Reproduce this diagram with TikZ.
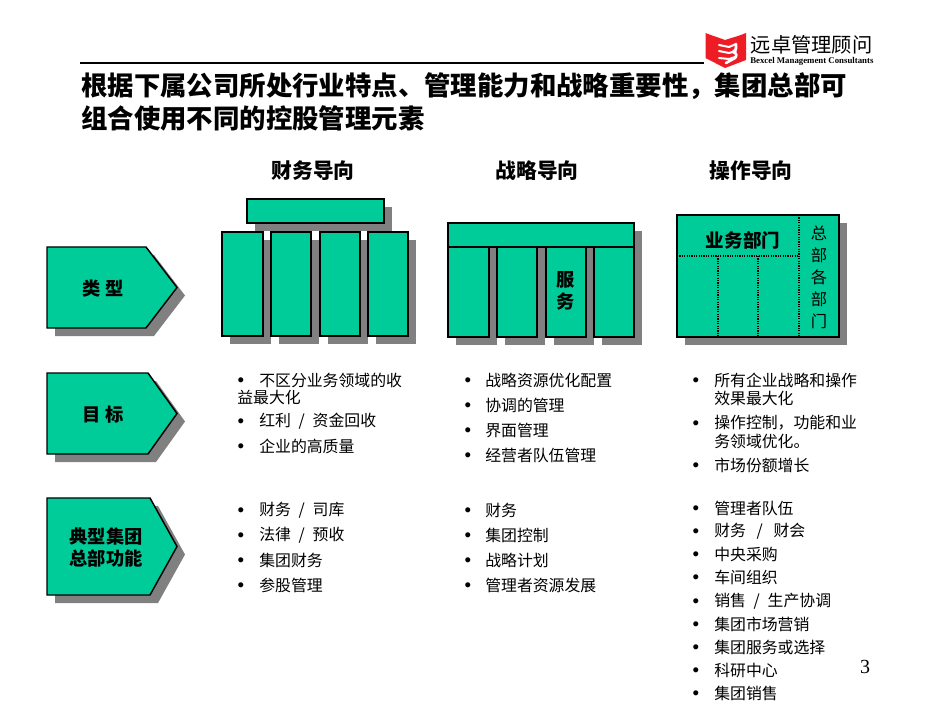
\documentclass[tikz,border=0pt]{standalone}
\usepackage{fontspec}
\setmainfont{Noto Sans CJK SC}
\newfontfamily\latinserif{Liberation Serif}
\newfontfamily\bulfont{Liberation Sans}
\usetikzlibrary{shadows}
\definecolor{grn}{HTML}{00CC99}
\definecolor{shd}{HTML}{808080}
\definecolor{logored}{HTML}{EE1C25}
\tikzset{
  x=.75pt,y=-.75pt,
  shd8/.style={general shadow={fill=shd,shadow xshift=6pt,shadow yshift=-6pt}},
  gbox/.style={draw=black,line width=1.1pt,fill=grn,inner sep=0pt,shd8},
  pent/.style={draw=black,line width=1.1pt,fill=grn,shd8},
  dotbox/.style={draw=black,line width=.8pt,dash pattern=on .9pt off .9pt},
  ttl/.style={anchor=west,inner sep=0pt,font=\fontsize{19.8}{22}\bfseries},
  hdr/.style={inner sep=0pt,font=\fontsize{15.6}{18}\bfseries},
  lbl/.style={inner sep=0pt,font=\fontsize{13.7}{16.5}\bfseries,align=center},
  itm/.style={anchor=west,inner sep=0pt,font=\fontsize{11.9}{14}\selectfont},
  bul/.style={anchor=base,inner sep=0pt,font=\bulfont\fontsize{14}{14}\selectfont},
}
\newcommand{\sep}{\hspace{5.8pt}/\hspace{5.8pt}}
\newcommand{\fwc}{^^^^ff0c}
% name, x0, y0, x1, y1, text
\newcommand{\rectnode}[6]{%
  \node[gbox,minimum width={(#4-#2)*.75pt},minimum height={(#5-#3)*.75pt}] (#1) at ({(#2+#4)/2},{(#3+#5)/2}) {#6};}
% name, y0, y1, shoulder x, label x, text
\newcommand{\pentnode}[6]{%
  \path[pent] (47,#2) -- (#4,#2) -- (177,{(#2+#3)/2}) -- (#4,#3) -- (47,#3) -- cycle;
  \node[lbl] (#1) at (#5,{(#2+#3)/2+1}) {#6};}
% name, bullet x, text x, y, text
\newcommand{\itemnode}[5]{%
  \node[bul] (#1b) at (#2,{#4+6}) {•};
  \node[itm] (#1) at (#3,#4) {#5};}
\begin{document}
\begin{tikzpicture}
\useasboundingbox (0,0) rectangle (950,713);
\fill[white] (0,0) rectangle (950,713);
% header rule and logo
\coordinate (ruleL) at (80,63);
\coordinate (ruleR) at (704,63);
\draw[line width=2.2pt] (ruleL) -- (ruleR);
\fill[logored] (705.5,33) .. controls (713,36) and (720,38) .. (725,40) .. controls (731,38) and (739,36) .. (746,33) -- (746,60) -- (725,68) -- (705.5,58) -- cycle;
\draw[white,line width=1.5pt,line join=round,line cap=round] (719,45) -- (729,47) -- (736,44) (719,51) -- (729,53) -- (736,51) (719,58) -- (729,59) -- (735,57);
\draw[white,line width=2pt,line cap=round] (736,44) .. controls (737,47) and (736,50) .. (733,52) .. controls (737,53) and (737,56) .. (735,58) -- (726,63);
\node[inner sep=0pt,anchor=west,font=\fontsize{15.2}{16}\selectfont] (logotext) at (750.5,45) {远卓管理顾问};
\node[inner sep=0pt,anchor=west,font=\latinserif\fontsize{6.6}{7}\bfseries] (logosub) at (750,61) {Bexcel Management Consultants};
% title
\node[ttl] (t1) at (81,86) {根据下属公司所处行业特点、管理能力和战略重要性\fwc 集团总部可};
\node[ttl] (t2) at (81,118) {组合使用不同的控股管理元素};
% column heads
\node[hdr] (h1) at (313,171) {财务导向};
\node[hdr] (h2) at (537,171) {战略导向};
\node[hdr] (h3) at (751,171) {操作导向};
% arrows
\pentnode{p1}{247}{328}{146}{103}{类\hspace{3.5pt}型}
\pentnode{p2}{373}{454}{148}{103}{目\hspace{3.5pt}标}
\pentnode{p3}{498}{595}{150}{106}{典型集团\\总部功能}
% financial
\rectnode{a0}{247}{199}{384}{223}{}
\rectnode{a1}{222}{232}{263}{336}{}
\rectnode{a2}{271}{232}{311}{336}{}
\rectnode{a3}{320}{232}{360}{336}{}
\rectnode{a4}{368}{232}{408}{336}{}
% strategic
\rectnode{b0}{448}{223}{634}{247}{}
\rectnode{b1}{448}{247}{489}{337}{}
\rectnode{b2}{497}{247}{537}{337}{}
\rectnode{b3}{546}{247}{586}{337}{}
\rectnode{b4}{594}{247}{634}{337}{}
\node[inner sep=0pt,font=\fontsize{13.7}{16.5}\bfseries,align=center] (b3t) at (566,291) {服\\务};
\draw[black,line width=1.1pt] (b0.south west) -- (b0.south east);
% operational
\rectnode{c0}{677}{215}{839}{337}{}
\node[inner sep=0pt,font=\fontsize{13.9}{16}\bfseries] (c1) at (743,240) {业务部门};
\node[inner sep=0pt,font=\fontsize{12.2}{16.5}\selectfont,align=center] (c2) at (819,277) {总\\部\\各\\部\\门};
\coordinate (cv) at (799,215);
\coordinate (cvb) at (799,337);
\coordinate (ch) at (677,256);
\coordinate (chr) at (799,256);
\draw[dotbox] (cv) -- (cvb);
\draw[dotbox] (ch) -- (chr);
\draw[dotbox] (718,256) -- (718,337);
\draw[dotbox] (758,256) -- (758,337);
% goals
\itemnode{g1}{241}{259}{380}{不区分业务领域的收}
\node[itm] (g1x) at (237,397) {益最大化};
\itemnode{g2}{241}{259}{421}{红利\sep 资金回收}
\itemnode{g3}{241}{259}{446}{企业的高质量}
\itemnode{g4}{468}{485}{380}{战略资源优化配置}
\itemnode{g5}{468}{485}{405}{协调的管理}
\itemnode{g6}{468}{485}{430}{界面管理}
\itemnode{g7}{468}{485}{455}{经营者队伍管理}
\itemnode{g8}{696}{714}{380}{所有企业战略和操作}
\node[itm] (g8x) at (714,398) {效果最大化};
\itemnode{g9}{696}{714}{423}{操作控制\fwc 功能和业}
\node[itm] (g9x) at (714,441) {务领域优化。};
\itemnode{g10}{696}{714}{465}{市场份额增长}
% functions
\itemnode{f1}{241}{259}{510}{财务\sep 司库}
\itemnode{f2}{241}{259}{535}{法律\sep 预收}
\itemnode{f3}{241}{259}{560}{集团财务}
\itemnode{f4}{241}{259}{585}{参股管理}
\itemnode{f5}{468}{485}{510}{财务}
\itemnode{f6}{468}{485}{535}{集团控制}
\itemnode{f7}{468}{485}{560}{战略计划}
\itemnode{f8}{468}{485}{585}{管理者资源发展}
\itemnode{f9}{696}{714}{508}{管理者队伍}
\itemnode{f10}{696}{714}{531}{财务\hspace{8pt}/\hspace{8pt}财会}
\itemnode{f11}{696}{714}{554}{中央采购}
\itemnode{f12}{696}{714}{577}{车间组织}
\itemnode{f13}{696}{714}{601}{销售\sep 生产协调}
\itemnode{f14}{696}{714}{624}{集团市场营销}
\itemnode{f15}{696}{714}{647}{集团服务或选择}
\itemnode{f16}{696}{714}{670}{科研中心}
\itemnode{f17}{696}{714}{693}{集团销售}
% page number
\node[inner sep=0pt,font=\latinserif\fontsize{15}{16}\selectfont] (pg) at (865,667) {3};
\end{tikzpicture}
\end{document}
